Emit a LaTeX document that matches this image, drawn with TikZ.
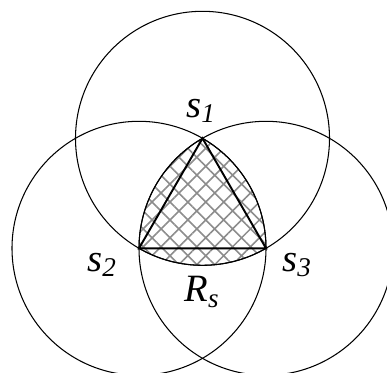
\documentclass[tikz,border=0pt]{standalone}
\usepackage{fontspec}
\setmainfont{Liberation Serif}
\usetikzlibrary{patterns.meta}
\newcommand{\lbl}[2]{\textit{#1}\textsubscript{\textit{#2}}}
\begin{document}
\begin{tikzpicture}[circ/.style={draw, line width=0.6pt}, tri/.style={draw, line width=1.1pt},
    every node/.style={font=\fontsize{22}{26}\selectfont}]
    \useasboundingbox (0,0) rectangle (7.74,7.44);
    \clip (0,0) rectangle (7.74,7.44);
    \def\side{2.54}
    \coordinate (s2) at (2.78, 2.474);
    \coordinate (s3) at (5.32, 2.474);
    \coordinate (s1) at (4.05, 4.674);
    % hatched region
    \fill[pattern={Hatch[angle=45, distance=7.2pt, line width=0.9pt]}, pattern color=gray!90]
        (s2) arc[start angle=240, end angle=300, radius=\side]
        arc[start angle=0, end angle=60, radius=\side]
        arc[start angle=120, end angle=180, radius=\side] -- cycle;
    \draw[line width=0.6pt] (s2) arc[start angle=240, end angle=300, radius=\side]
        arc[start angle=0, end angle=60, radius=\side]
        arc[start angle=120, end angle=180, radius=\side] -- cycle;
    \foreach \s in {s1, s2, s3}
        \draw[circ] (\s) circle[radius=\side];
    \draw[tri] (s1) -- (s2) -- (s3) -- cycle;
    \node (l1) at (4.02, 5.22) {\lbl{s}{1}};
    \node (l2) at (2.04, 2.14) {\lbl{s}{2}};
    \node (l3) at (5.94, 2.14) {\lbl{s}{3}};
    \node (rs) at (4.04, 1.60) {\lbl{R}{s}};
\end{tikzpicture}
\end{document}
